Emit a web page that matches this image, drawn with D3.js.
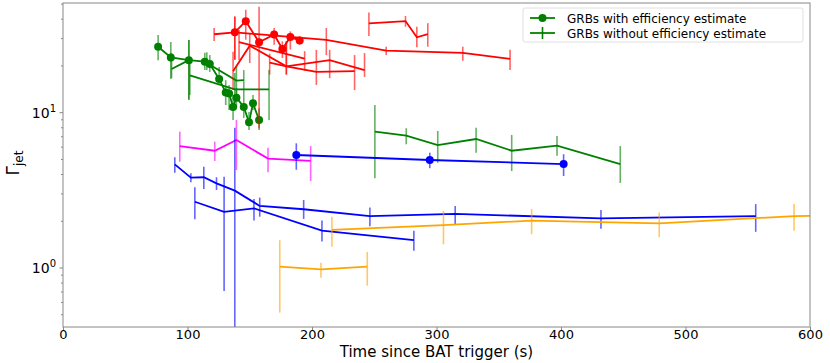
<!DOCTYPE html>
<html>
<head>
<meta charset="utf-8">
<script src="https://cdn.jsdelivr.net/npm/d3@7"></script>
<style>
  body { margin: 0; background: #fff; }
  text { font-family: "DejaVu Sans", sans-serif; }
</style>
</head>
<body>
<div id="chart"></div>
<script>
// each point: [time since trigger (s), Gamma_jet, lower, upper]
const greenEff = [
  [76.4, 26.6, 21.8, 31.6], [86.6, 22.7, 16.5, 28.5], [101.1, 21.8, 12.1, 29.4],
  [113.9, 21.3, 18.8, 24.3], [117.9, 20.6, 18.3, 23.5], [125.4, 16.5, 15.1, 19.7],
  [130.7, 13.5, 11.2, 16.2], [133.4, 13.3, 10.4, 15.1], [136.6, 10.9, 8.97, 13.0],
  [139.3, 12.5, 10.7, 14.4], [145.2, 10.9, 9.25, 13.0], [149.4, 8.67, 7.74, 10.1],
  [152.6, 11.5, 10.4, 13.0], [157.5, 8.97, 7.74, 10.7]
];
const greenA = [[101.9, 17.4, 13.0, 21.8], [138.0, 14.15, 12.1, 18.0], [165.5, 14.15, 8.97, 18.8]];
const greenB = [[115.5, 20.9, 18.8, 24.5], [139.3, 16.1, 12.1, 19.8], [145.2, 16.2, 13.0, 18.8]];
const greenC = [[87.2, 19.1, 16.7, 24.2], [101.1, 21.8, 12.1, 29.4]];
const greenLate = [
  [250.5, 7.55, 3.78, 11.2], [275.7, 7.11, 6.26, 7.94], [301.0, 6.19, 4.76, 7.62],
  [331.8, 6.77, 5.53, 8.01], [360.4, 5.69, 4.21, 7.19], [396.8, 6.13, 5.29, 7.08],
  [447.6, 4.67, 3.53, 6.10]
];
const redEff = [
  [138.0, 32.9, 21.9, 41.7], [146.8, 38.8, 29.5, 46.0], [157.5, 28.4, 7.94, 48.1],
  [169.6, 31.9, 27.4, 35.1], [176.2, 25.7, 22.5, 28.8], [182.6, 30.7, 25.5, 33.4],
  [190.1, 29.2, 27.4, 31.0]
];
const redLong = [
  [121.4, 32.0, 28.9, 35.1], [138.0, 32.9, 21.9, 41.7], [211.5, 29.4, 23.5, 35.1],
  [259.6, 25.1, 23.5, 26.6], [321.1, 24.3, 21.6, 26.6], [359.1, 22.2, 18.8, 25.4]
];
const redTop = [[245.7, 37.6, 31.2, 44.1], [275.1, 38.9, 35.8, 42.0], [284.2, 30.6, 26.4, 35.8], [293.0, 32.0, 26.6, 37.7]];
const redA = [[141.4, 28.5, 21.8, 34.1], [194.1, 22.3, 18.6, 24.9]];
const redB = [[136.6, 18.5, 14.0, 24.7], [150.0, 27.0, 20.9, 32.6], [179.4, 19.9, 17.6, 28.8], [203.5, 18.3, 15.1, 25.4], [234.2, 18.5, 14.0, 23.5]];
const redC = [[166.0, 21.0, 17.6, 24.0], [179.4, 19.9, 17.6, 28.8], [214.2, 21.8, 16.7, 25.4], [242.2, 18.8, 17.0, 24.2]];
const magenta = [[93.8, 6.10, 4.84, 7.55], [121.9, 5.69, 4.89, 6.51], [139.3, 6.67, 4.27, 8.97], [164.7, 5.06, 4.13, 5.95], [198.9, 4.89, 3.63, 6.10]];
const blueEff = [[187.4, 5.34, 4.29, 6.35], [294.6, 4.96, 4.39, 5.53], [402.1, 4.67, 3.91, 5.40]];
const blueA = [
  [89.8, 4.65, 4.11, 5.16], [102.7, 3.82, 3.56, 4.07], [113.1, 3.84, 3.23, 4.49],
  [123.3, 3.51, 3.18, 3.84], [138.0, 3.15, 0.3, 8.01], [158.0, 2.51, 2.14, 2.84],
  [193.3, 2.39, 2.07, 2.74], [246.5, 2.16, 1.86, 2.45], [315.0, 2.23, 1.92, 2.51],
  [432.1, 2.09, 1.79, 2.36], [556.4, 2.16, 1.71, 2.58]
];
const blueB = [[105.9, 2.67, 2.06, 3.31], [129.4, 2.30, 0.71, 3.87], [153.4, 2.42, 2.02, 2.78], [208.0, 1.74, 1.48, 2.02], [281.8, 1.51, 1.29, 1.74]];
const orangeA = [[174.1, 1.02, 0.516, 1.51], [207.2, 0.98, 0.866, 1.08], [244.4, 1.02, 0.77, 1.27]];
const orangeB = [[216.0, 1.76, 1.37, 2.14], [305.6, 1.89, 1.42, 2.33], [376.4, 2.02, 1.65, 2.40], [478.9, 1.94, 1.58, 2.28], [587.2, 2.16, 1.74, 2.58], [640, 2.18, 1.8, 2.6]];

const xTicks = [0, 100, 200, 300, 400, 500, 600];
const yMajor = [1, 10];
const legendLabels = ["GRBs with efficiency estimate", "GRBs without efficiency estimate"];

const series = [
  { data: greenEff, color: "green", dots: true },
  { data: greenA, color: "green" }, { data: greenB, color: "green" }, { data: greenC, color: "green" },
  { data: greenLate, color: "green" },
  { data: redLong, color: "red" }, { data: redTop, color: "red" }, { data: redA, color: "red" },
  { data: redB, color: "red" }, { data: redC, color: "red" },
  { data: redEff, color: "red", dots: true },
  { data: magenta, color: "magenta" },
  { data: blueA, color: "blue" }, { data: blueB, color: "blue" },
  { data: blueEff, color: "blue", dots: true },
  { data: orangeA, color: "orange" }, { data: orangeB, color: "orange" }
];

const margin = { top: 3, right: 20, bottom: 36, left: 63 },
      width = 830 - margin.left - margin.right,
      height = 363 - margin.top - margin.bottom;

const svg = d3.select("#chart").append("svg")
  .attr("width", 830).attr("height", 363);
const g = svg.append("g").attr("transform", `translate(${margin.left},${margin.top})`);

const x = d3.scaleLinear().domain([0, 600]).range([0, width]);
const y = d3.scaleLog().domain([0.417, 50.85]).range([height, 0]);

g.append("clipPath").attr("id", "clip").append("rect").attr("width", width).attr("height", height);
const plot = g.append("g").attr("clip-path", "url(#clip)");

const line = d3.line().x(d => x(d[0])).y(d => y(d[1]));

series.forEach(s => {
  plot.append("g").selectAll("line").data(s.data).join("line")
    .attr("x1", d => x(d[0])).attr("x2", d => x(d[0]))
    .attr("y1", d => y(d[2])).attr("y2", d => y(d[3]))
    .attr("stroke", s.color).attr("stroke-width", 1.6).attr("opacity", 0.6);
  plot.append("path").datum(s.data).attr("d", line)
    .attr("fill", "none").attr("stroke", s.color).attr("stroke-width", 1.8);
  if (s.dots) {
    plot.append("g").selectAll("circle").data(s.data).join("circle")
      .attr("cx", d => x(d[0])).attr("cy", d => y(d[1])).attr("r", 4)
      .attr("fill", s.color);
  }
});

// axes
const axisColor = "#888";
g.append("rect").attr("width", width).attr("height", height)
  .attr("fill", "none").attr("stroke", axisColor).attr("stroke-width", 1);

const xAxis = g.append("g").attr("transform", `translate(0,${height})`)
  .call(d3.axisBottom(x).tickValues(xTicks).tickSize(3.5).tickFormat(d3.format("d")));
xAxis.select(".domain").remove();
xAxis.selectAll("line").attr("stroke", axisColor);
xAxis.selectAll("text").attr("fill", "#000").style("font-size", "13px").attr("y", 3).attr("dy", "0.71em");

const minor = [];
[0.1, 1, 10].forEach(b => { for (let k = 2; k <= 9; k++) { const v = b * k; if (v >= 0.417 && v <= 50.85) minor.push(v); } });
const yAx = g.append("g");
yAx.selectAll(".minor").data(minor).join("line")
  .attr("x1", -2).attr("x2", 0).attr("y1", d => y(d)).attr("y2", d => y(d)).attr("stroke", axisColor);
yAx.selectAll(".major").data(yMajor).join("line")
  .attr("x1", -3.5).attr("x2", 0).attr("y1", d => y(d)).attr("y2", d => y(d)).attr("stroke", axisColor);
const yl = yAx.selectAll(".lbl").data(yMajor).join("text")
  .attr("x", -7).attr("y", d => y(d) + 5).attr("text-anchor", "end").style("font-size", "14px");
yl.append("tspan").text("10");
yl.append("tspan").attr("dy", -6).style("font-size", "10px").text(d => d === 1 ? "0" : "1");

svg.append("text").attr("x", margin.left + width / 2).attr("y", 357)
  .attr("text-anchor", "middle").style("font-size", "15px").text("Time since BAT trigger (s)");

const yt = svg.append("text").attr("transform", "translate(19,163) rotate(-90)")
  .attr("text-anchor", "middle").style("font-size", "17px");
yt.append("tspan").text("Γ");
yt.append("tspan").attr("dy", 4).style("font-size", "12px").text("jet");

// legend
const lg = svg.append("g").attr("transform", "translate(523,8)");
lg.append("rect").attr("width", 280).attr("height", 34).attr("rx", 2)
  .attr("fill", "#fff").attr("stroke", "#e0e0e0");
legendLabels.forEach((t, i) => {
  const yy = 10 + i * 15;
  lg.append("line").attr("x1", 7).attr("x2", 32).attr("y1", yy).attr("y2", yy)
    .attr("stroke", "green").attr("stroke-width", 1.8);
  if (i === 0) lg.append("circle").attr("cx", 19.5).attr("cy", yy).attr("r", 4).attr("fill", "green");
  else lg.append("line").attr("x1", 19.5).attr("x2", 19.5).attr("y1", yy - 6).attr("y2", yy + 6)
    .attr("stroke", "green").attr("stroke-width", 1.6);
  lg.append("text").attr("x", 44).attr("y", yy + 4.5).style("font-size", "12px").text(t);
});
</script>
</body>
</html>
